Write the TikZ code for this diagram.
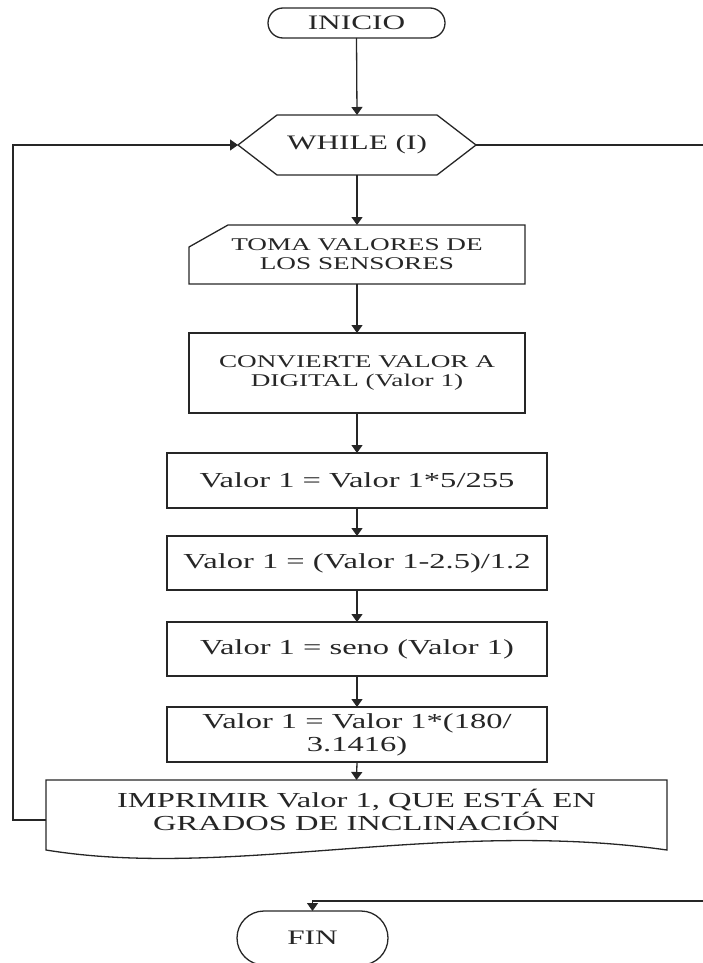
\documentclass[tikz,border=0pt]{standalone}
\usepackage{fontspec}
\setmainfont{Liberation Serif}[FakeStretch=1.52]
\usetikzlibrary{arrows.meta}
\begin{document}
\begin{tikzpicture}[x=1pt,y=-1pt,
  line width=1.3pt,
  every node/.style={inner sep=0pt, outer sep=0pt, text=black!85, align=center},
  bigtxt/.style={font=\fontsize{21.4}{22.9}\selectfont},
  smalltxt/.style={font=\fontsize{17.9}{19.2}\selectfont},
  termtxt/.style={font=\fontsize{20.6}{22}\selectfont},
  procbox/.style={draw=black!85, bigtxt, minimum width=380pt, minimum height=55pt},
  widebox/.style={draw=black!85, smalltxt, minimum width=336pt, minimum height=80pt},
  terminal/.style={draw=black!85, termtxt},
  outline/.style={draw=black!85},
  flow/.style={draw=black!85, -{Triangle[length=8pt,width=11pt]}},
]
\useasboundingbox (0,0) rectangle (702,963);

% start / end
\node[terminal, minimum width=177pt, minimum height=30pt, rounded corners=15pt]
  (inicio) at (356.5,23) {INICIO};
\node[terminal, minimum width=151pt, minimum height=54pt, rounded corners=27pt]
  (fin) at (312.5,938) {FIN};

% loop header (hexagon)
\node[termtxt, minimum width=238pt, minimum height=60pt] (while) at (357,145) {WHILE (I)};
\draw[outline] (while.west) -- ([xshift=39pt]while.north west)
  -- ([xshift=-39pt]while.north east) -- (while.east)
  -- ([xshift=-39pt]while.south east) -- ([xshift=39pt]while.south west) -- cycle;

% manual input
\node[smalltxt, minimum width=336pt, minimum height=59pt] (toma) at (357,254.5)
  {TOMA VALORES DE\\LOS SENSORES};
\draw[outline] ([xshift=39pt]toma.north west) -- (toma.north east)
  -- (toma.south east) -- (toma.south west)
  -- ([yshift=-22pt]toma.north west) -- cycle;

% processing steps
\node[widebox] (conv) at (357,373) {CONVIERTE VALOR A\\DIGITAL (Valor 1)};
\node[procbox] (p1) at (357,480.5) {Valor 1 = Valor 1*5/255};
\node[procbox, minimum height=54pt] (p2) at (357,563) {Valor 1 = (Valor 1-2.5)/1.2};
\node[procbox, minimum height=54pt] (p3) at (357,649) {Valor 1 = seno (Valor 1)};
\node[procbox] (p4) at (357,734.5) {Valor 1 = Valor 1*(180/\\3.1416)};

% output document
\node[minimum width=621pt, minimum height=80pt] (imp) at (356.5,820) {};
\draw[outline] (imp.north west) -- (imp.north east)
  -- ([yshift=10pt]imp.south east) .. controls (440,818) and (230,880) ..
  ([yshift=10pt]imp.south west) -- cycle;
\node[bigtxt] (imptext) at (356.5,809.5)
  {IMPRIMIR Valor 1, QUE ESTÁ EN\\GRADOS DE INCLINACIÓN};

% main sequence
\draw[flow] (inicio.south) -- (while.north);
\draw[flow] (while.south) -- (toma.north);
\draw[flow] (toma.south) -- (conv.north);
\draw[flow] (conv.south) -- (p1.north);
\draw[flow] (p1.south) -- (p2.north);
\draw[flow] (p2.south) -- (p3.north);
\draw[flow] (p3.south) -- (p4.north);
\draw[flow] (p4.south) -- (imp.north);

% loop back and exit
\coordinate (loopL) at (13,820);
\draw[flow] (imp.west) -- (loopL) |- (while.west);
\coordinate (exitR) at (712,145);
\coordinate (exitB) at (712,901);
\draw[flow] (while.east) -- (exitR) -- (exitB) -| (fin.north);
\end{tikzpicture}
\end{document}
